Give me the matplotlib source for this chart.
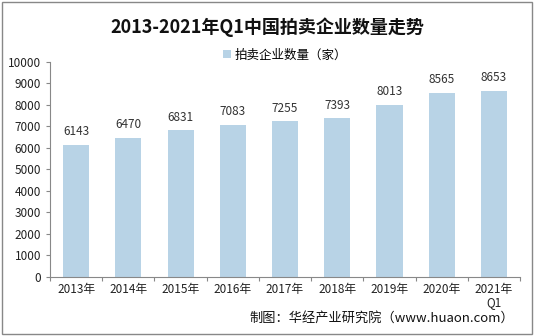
import numpy as np
import matplotlib.pyplot as plt
from matplotlib.patches import Rectangle

plt.rcParams['font.family'] = ['Noto Sans CJK SC', 'DejaVu Sans']

# 数据
years = ['2013年', '2014年', '2015年', '2016年', '2017年', '2018年', '2019年', '2020年', '2021年\nQ1']
counts = [6143, 6470, 6831, 7083, 7255, 7393, 8013, 8565, 8653]

fig = plt.figure(figsize=(5.35, 3.36), dpi=100)
ax = fig.add_axes([0.0935, 0.1756, 0.8785, 0.64])

x = np.arange(len(years))
bars = ax.bar(x, counts, width=0.5, color='#b8d3e6', label='拍卖企业数量（家）')

for xi, v in zip(x, counts):
    ax.text(xi, v + 300, str(v), ha='center', va='bottom', fontsize=8.5, color='#333333')

ax.set_xlim(-0.5, len(years) - 0.5)
ax.set_ylim(0, 10000)
ax.set_yticks(np.arange(0, 10001, 1000))
ax.tick_params(axis='y', labelsize=8.5, length=3, color='#888888', labelcolor='#222222')

# 类别边界画刻度，标签放中间
ax.set_xticks(np.arange(-0.5, len(years), 1))
ax.set_xticklabels([])
ax.set_xticks(x, minor=True)
ax.set_xticklabels(years, minor=True, fontsize=8.5, color='#222222', linespacing=1.0)
ax.tick_params(axis='x', which='major', length=3, color='#888888')
ax.tick_params(axis='x', which='minor', length=0, pad=4)

for s in ['top', 'right']:
    ax.spines[s].set_visible(False)
ax.spines['left'].set_color('#888888')
ax.spines['bottom'].set_color('#888888')

fig.text(0.5, 0.918, '2013-2021年Q1中国拍卖企业数量走势', ha='center', va='center',
         fontsize=13, fontweight='bold', color='#111111')
ax.legend(loc='upper center', bbox_to_anchor=(0.5, 1.115), frameon=False, fontsize=9,
          handlelength=0.6, handleheight=0.6, handletextpad=0.3)
fig.text(0.962, 0.052, '制图：华经产业研究院（www.huaon.com）', ha='right', va='center',
         fontsize=9.5, color='#111111')

fig.patches.append(Rectangle((0.004, 0.006), 0.99, 0.988, transform=fig.transFigure,
                             fill=False, edgecolor='#888888', linewidth=1))

fig.savefig('out.png', dpi=100)
